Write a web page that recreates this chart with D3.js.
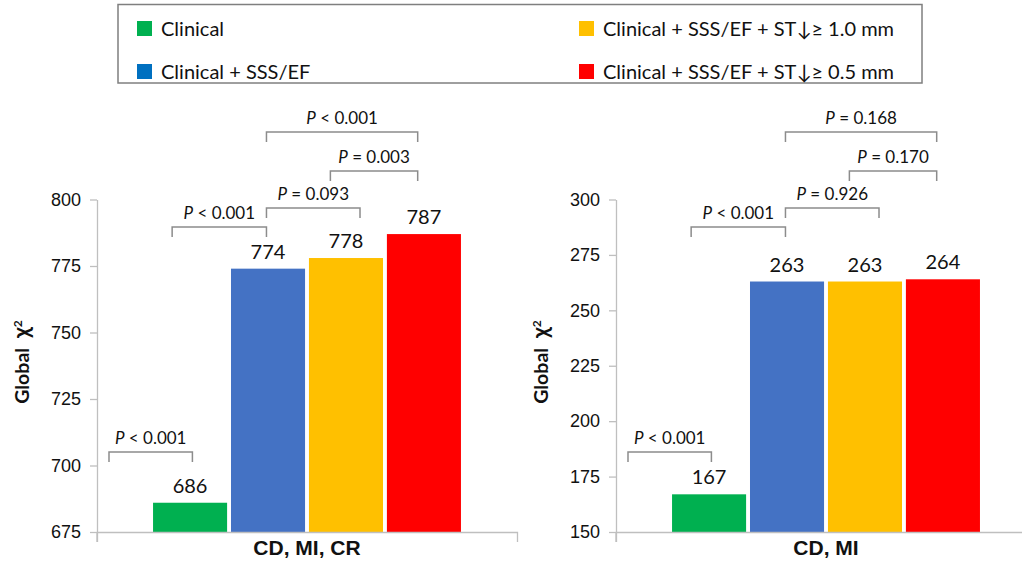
<!DOCTYPE html>
<html>
<head>
<meta charset="utf-8">
<script src="https://cdn.jsdelivr.net/npm/d3@7"></script>
<style>
  html, body { margin: 0; padding: 0; background: #fff; }
  svg { display: block; font-family: Lato, "Open Sans", "DejaVu Sans", sans-serif; }
</style>
</head>
<body>
<svg id="chart" width="1022" height="566"></svg>
<script>
// Model names and their colours
const seriesNames = [
  "Clinical",
  "Clinical + SSS/EF",
  "Clinical + SSS/EF + ST\u2193\u2265 1.0 mm",
  "Clinical + SSS/EF + ST\u2193\u2265 0.5 mm"
];
const barColors = ["#00b050", "#4472c4", "#ffc000", "#ff0000"];
const legendColors = ["#00b050", "#0070c0", "#ffc000", "#ff0000"];

// Endpoints
const categories = ["CD, MI, CR", "CD, MI"];

// Global chi-square per model
const valuesCDMICR = [686, 774, 778, 787];
const valuesCDMI = [167, 263, 263, 264];

// Axis ticks
const ticksCDMICR = [675, 700, 725, 750, 775, 800];
const ticksCDMI = [150, 175, 200, 225, 250, 275, 300];

// P-values for the pairwise comparisons (same order as the brackets below)
const pCDMICR = ["< 0.001", "< 0.001", "= 0.093", "= 0.003", "< 0.001"];
const pCDMI = ["< 0.001", "< 0.001", "= 0.926", "= 0.170", "= 0.168"];

// ---- layout ----
const svg = d3.select("#chart");
const plotTop = 199.5, plotBottom = 532;
const panelWidth = 420;
const axisColor = "#bfbfbf";
const bracketColor = "#8c8c8c";
const textColor = "#111";

// bracket spans in bar-slot units (0 = first bar centre) and their heights
const bracketSpans = [[-1.04, 0.03], [-0.23, 0.98], [0.98, 2.18], [1.8, 2.92], [0.98, 2.92]];
const bracketLevels = [452, 227, 208, 171, 132];
const bracketDrop = 10;

const panels = [
  { x0: 97, cat: categories[0], values: valuesCDMICR, ticks: ticksCDMICR, p: pCDMICR },
  { x0: 616, cat: categories[1], values: valuesCDMI, ticks: ticksCDMI, p: pCDMI }
];

panels.forEach(panel => {
  const g = svg.append("g");
  const domain = d3.extent(panel.ticks);
  const y = d3.scaleLinear().domain(domain).range([plotBottom, plotTop]);

  const xOuter = d3.scaleBand()
    .domain([panel.cat])
    .range([panel.x0, panel.x0 + panelWidth])
    .paddingInner(0)
    .paddingOuter(0.182);
  const xInner = d3.scaleBand()
    .domain(d3.range(seriesNames.length))
    .range([0, xOuter.bandwidth()])
    .paddingInner(0.05);
  const groupX = xOuter(panel.cat);
  const slot = d3.scaleLinear()
    .domain([0, 1])
    .range([groupX + xInner(0) + xInner.bandwidth() / 2, groupX + xInner(1) + xInner.bandwidth() / 2]);

  // y axis
  const yAxis = g.append("g")
    .attr("transform", `translate(${panel.x0},0)`)
    .call(d3.axisLeft(y).tickValues(panel.ticks).tickSize(7).tickSizeOuter(0).tickPadding(9));
  yAxis.select(".domain").attr("stroke", axisColor).attr("stroke-width", 1.3);
  yAxis.selectAll(".tick line").attr("stroke", axisColor).attr("stroke-width", 1.3);
  yAxis.selectAll(".tick text")
    .attr("fill", textColor)
    .style("font-size", "18px");
  g.append("line")
    .attr("x1", panel.x0).attr("x2", panel.x0)
    .attr("y1", plotBottom).attr("y2", plotBottom + 10)
    .attr("stroke", axisColor).attr("stroke-width", 1.3);

  // bars
  g.selectAll("rect.bar")
    .data(panel.values)
    .join("rect")
    .attr("class", "bar")
    .attr("x", (d, i) => groupX + xInner(i))
    .attr("width", xInner.bandwidth())
    .attr("y", d => y(d))
    .attr("height", d => plotBottom - y(d))
    .attr("fill", (d, i) => barColors[i]);

  // x axis (category)
  const xAxis = g.append("g")
    .attr("transform", `translate(0,${plotBottom})`)
    .call(d3.axisBottom(xOuter).tickSize(0).tickSizeOuter(10).tickPadding(8));
  xAxis.select(".domain").attr("stroke", axisColor).attr("stroke-width", 1.3);
  xAxis.selectAll(".tick text")
    .attr("fill", textColor)
    .style("font-size", "21px")
    .style("font-weight", "bold");

  // value labels
  g.selectAll("text.val")
    .data(panel.values)
    .join("text")
    .attr("class", "val")
    .attr("x", (d, i) => groupX + xInner(i) + xInner.bandwidth() / 2)
    .attr("y", d => y(d) - 10)
    .attr("text-anchor", "middle")
    .attr("fill", textColor)
    .style("font-size", "20px")
    .text(d => d);

  // comparison brackets
  bracketSpans.forEach((span, k) => {
    const xa = slot(span[0]), xb = slot(span[1]), yl = bracketLevels[k];
    g.append("path")
      .attr("d", `M${xa},${yl + bracketDrop}V${yl}H${xb}V${yl + bracketDrop}`)
      .attr("fill", "none")
      .attr("stroke", bracketColor)
      .attr("stroke-width", 1.5);
    const t = g.append("text")
      .attr("x", (xa + xb) / 2)
      .attr("y", yl - 8)
      .attr("text-anchor", "middle")
      .attr("fill", textColor)
      .style("font-size", "17px");
    t.append("tspan").style("font-style", "italic").text("P");
    t.append("tspan").text(" " + panel.p[k]);
  });

  // y title
  const ty = g.append("text")
    .attr("transform", `translate(${panel.x0 - 68},362) rotate(-90)`)
    .attr("text-anchor", "middle")
    .attr("fill", textColor)
    .style("font-size", "19.5px")
    .style("font-weight", "bold");
  ty.append("tspan").text("Global");
  ty.append("tspan").attr("dx", "0.45em").style("font-size", "22px").text("\u03c7");
  ty.append("tspan").attr("dy", "-0.55em").style("font-size", "12px").text("2");
});

// legend
const legend = svg.append("g");
legend.append("rect")
  .attr("x", 118).attr("y", 4.5)
  .attr("width", 804).attr("height", 78.5)
  .attr("fill", "none")
  .attr("stroke", "#7f7f7f")
  .attr("stroke-width", 1.5);
const legendCols = [137, 579];
const legendRows = [21, 64];
seriesNames.forEach((name, i) => {
  const lx = legendCols[Math.floor(i / 2)];
  const ly = legendRows[i % 2];
  legend.append("rect")
    .attr("x", lx).attr("y", ly)
    .attr("width", 15).attr("height", 15)
    .attr("fill", legendColors[i]);
  legend.append("text")
    .attr("x", lx + 24).attr("y", ly + 15)
    .attr("fill", textColor)
    .style("font-size", "20px")
    .text(name);
});
</script>
</body>
</html>
